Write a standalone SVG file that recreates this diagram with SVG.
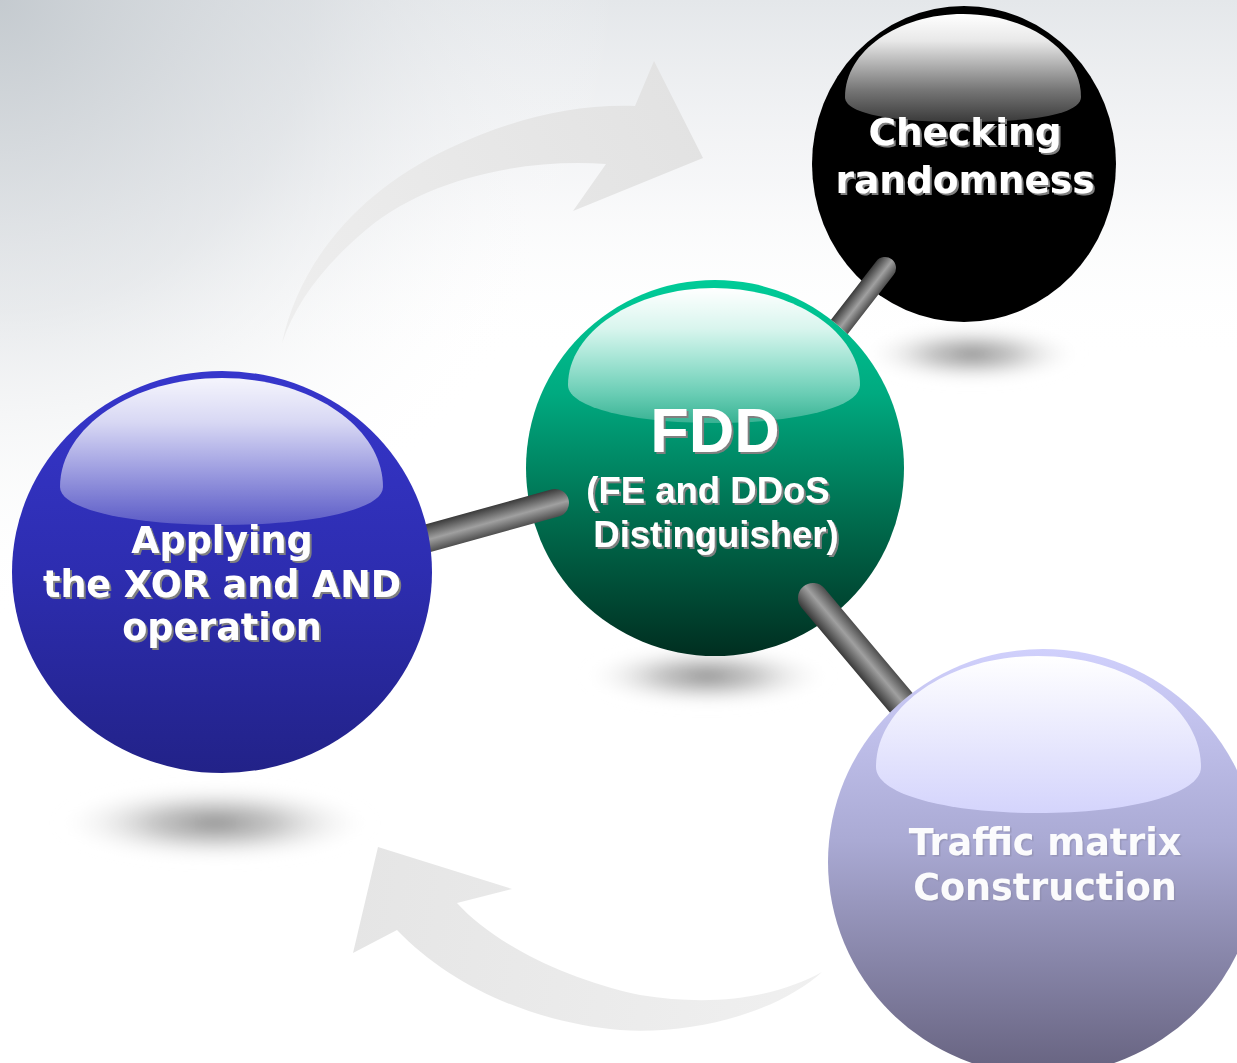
<svg xmlns="http://www.w3.org/2000/svg" width="1237" height="1063" viewBox="0 0 1237 1063">
<defs>
  <linearGradient id="bgTop" gradientUnits="userSpaceOnUse" x1="0" y1="0" x2="0" y2="360">
    <stop offset="0" stop-color="#e4e7ea" stop-opacity="1"/>
    <stop offset="0.5" stop-color="#f2f3f5" stop-opacity="0.7"/>
    <stop offset="1" stop-color="#ffffff" stop-opacity="0"/>
  </linearGradient>
  <radialGradient id="bgCorner" gradientUnits="userSpaceOnUse" cx="0" cy="0" r="620">
    <stop offset="0" stop-color="#c3c9ce" stop-opacity="0.95"/>
    <stop offset="0.5" stop-color="#d6dade" stop-opacity="0.55"/>
    <stop offset="1" stop-color="#ffffff" stop-opacity="0"/>
  </radialGradient>
  <linearGradient id="arrowTop" gradientUnits="userSpaceOnUse" x1="282" y1="343" x2="703" y2="110">
    <stop offset="0" stop-color="#eeeeee"/>
    <stop offset="1" stop-color="#e2e2e2"/>
  </linearGradient>
  <linearGradient id="arrowBot" gradientUnits="userSpaceOnUse" x1="822" y1="972" x2="353" y2="900">
    <stop offset="0" stop-color="#f0f0f0"/>
    <stop offset="1" stop-color="#e5e5e5"/>
  </linearGradient>
  <radialGradient id="shadow" cx="0.5" cy="0.5" r="0.5">
    <stop offset="0" stop-color="#8e8e8e" stop-opacity="0.95"/>
    <stop offset="0.4" stop-color="#aaaaaa" stop-opacity="0.65"/>
    <stop offset="0.75" stop-color="#d8d8d8" stop-opacity="0.25"/>
    <stop offset="1" stop-color="#ffffff" stop-opacity="0"/>
  </radialGradient>
  <linearGradient id="gGreen" x1="0" y1="0" x2="0" y2="1">
    <stop offset="0" stop-color="#00cc98"/>
    <stop offset="0.3" stop-color="#00aa80"/>
    <stop offset="0.65" stop-color="#006a4c"/>
    <stop offset="1" stop-color="#002e20"/>
  </linearGradient>
  <linearGradient id="gBlue" x1="0" y1="0" x2="0" y2="1">
    <stop offset="0" stop-color="#3636cc"/>
    <stop offset="0.5" stop-color="#2d2db0"/>
    <stop offset="1" stop-color="#222288"/>
  </linearGradient>
  <linearGradient id="gPurple" x1="0" y1="0" x2="0" y2="1">
    <stop offset="0" stop-color="#d0d0fc"/>
    <stop offset="0.45" stop-color="#aaaad4"/>
    <stop offset="1" stop-color="#66627f"/>
  </linearGradient>
  <linearGradient id="hlBlack" x1="0" y1="0" x2="0" y2="1">
    <stop offset="0" stop-color="#ffffff"/>
    <stop offset="0.25" stop-color="#e8e8e8"/>
    <stop offset="0.7" stop-color="#777777"/>
    <stop offset="1" stop-color="#3a3a3a"/>
  </linearGradient>
  <linearGradient id="hlWhite" x1="0" y1="0" x2="0" y2="1">
    <stop offset="0" stop-color="#ffffff" stop-opacity="1"/>
    <stop offset="0.3" stop-color="#ffffff" stop-opacity="0.85"/>
    <stop offset="1" stop-color="#ffffff" stop-opacity="0.22"/>
  </linearGradient>
  <linearGradient id="hlPurple" x1="0" y1="0" x2="0" y2="1">
    <stop offset="0" stop-color="#ffffff" stop-opacity="1"/>
    <stop offset="1" stop-color="#d4d4fc" stop-opacity="1"/>
  </linearGradient>
  <linearGradient id="rod" x1="0" y1="0" x2="0" y2="1">
    <stop offset="0" stop-color="#4e4e4e"/>
    <stop offset="0.45" stop-color="#a0a0a0"/>
    <stop offset="1" stop-color="#3a3a3a"/>
  </linearGradient>
  <clipPath id="notGreen">
    <path clip-rule="evenodd" d="M0,0 H1237 V1063 H0 Z M526,468 A189,188 0 1 0 904,468 A189,188 0 1 0 526,468 Z"/>
  </clipPath>
  <filter id="ts" x="-10%" y="-20%" width="120%" height="150%">
    <feDropShadow dx="2" dy="2" stdDeviation="0.7" flood-color="#808080" flood-opacity="1"/>
  </filter>
  <filter id="tsLight" x="-10%" y="-20%" width="120%" height="150%">
    <feDropShadow dx="1.5" dy="1.5" stdDeviation="0.6" flood-color="#8a88a8" flood-opacity="0.6"/>
  </filter>
  <filter id="blur" x="-30%" y="-60%" width="160%" height="220%">
    <feGaussianBlur stdDeviation="6"/>
  </filter>
  <style>
    .lbl { fill: #ffffff; font-family: "DejaVu Sans", Verdana, sans-serif; font-weight: bold; text-anchor: middle; filter: url(#ts); }
    .ar { font-family: "Liberation Sans", Arial, sans-serif; }
    .soft { filter: url(#tsLight); }
    .rod { fill: url(#rod); }
    .sh { fill: url(#shadow); filter: url(#blur); }
  </style>
</defs>

<g id="background">
  <rect x="0" y="0" width="1237" height="1063" fill="#ffffff"/>
  <rect x="0" y="0" width="1237" height="1063" fill="url(#bgTop)"/>
  <rect x="0" y="0" width="1237" height="1063" fill="url(#bgCorner)"/>
</g>

<g id="cycle-arrows">
  <path fill="url(#arrowTop)" d="M282,343 C300,260 360,190 450,148 C510,120 570,104 635,106 L654,61 L703,158 L573,211 L606,164 C520,158 420,180 360,235 C320,270 295,305 282,343 Z"/>
  <path fill="url(#arrowBot)" d="M822,972 C780,1010 700,1035 620,1030 C530,1022 450,985 397,930 L353,953 L378,847 L512,889 L457,903 C490,940 560,978 640,995 C720,1008 780,995 822,972 Z"/>
</g>

<g id="shadows">
  <ellipse class="sh" cx="972" cy="354" rx="110" ry="30"/>
  <ellipse class="sh" cx="707" cy="676" rx="125" ry="32"/>
  <ellipse class="sh" cx="215" cy="823" rx="160" ry="40"/>
</g>

<g id="node-checking">
  <ellipse cx="964" cy="164" rx="152" ry="158" fill="#000000"/>
  <path fill="url(#hlBlack)" d="M845,97 C845,51 898,14 963,14 C1028,14 1081,51 1081,97 C1081,115 1028,122 963,122 C898,122 845,115 845,97 Z"/>
  <text class="lbl" font-size="37.5" x="965" y="145">Checking</text>
  <text class="lbl" font-size="37.5" x="965" y="193">randomness</text>
</g>

<g id="node-fdd">
  <ellipse cx="715" cy="468" rx="189" ry="188" fill="url(#gGreen)"/>
  <path fill="url(#hlWhite)" d="M568,385 C568,332 634,288 714,288 C794,288 860,332 860,385 C860,408 794,423 714,423 C634,423 568,408 568,385 Z"/>
  <text class="lbl ar" font-size="63" x="715" y="452">FDD</text>
  <text class="lbl ar" font-size="36.5" x="708" y="503">(FE and DDoS</text>
  <text class="lbl ar" font-size="36.5" x="716" y="547">Distinguisher)</text>
</g>

<g id="connectors">
  <g clip-path="url(#notGreen)">
    <rect class="rod" x="-11" y="-11" width="120" height="22" rx="11" transform="translate(885,268) rotate(127.8)"/>
  </g>
  <rect class="rod" x="-14" y="-14" width="175" height="28" rx="14" transform="translate(555,503) rotate(164.5)"/>
  <rect class="rod" x="-15" y="-15" width="190" height="30" rx="15" transform="translate(813,598) rotate(49.9)"/>
</g>

<g id="node-applying">
  <ellipse cx="222" cy="572" rx="210" ry="201" fill="url(#gBlue)"/>
  <path fill="url(#hlWhite)" d="M60,487 C60,427 133,378 222,378 C311,378 383,427 383,487 C383,510 311,525 222,525 C133,525 60,510 60,487 Z" opacity="0.95"/>
  <text class="lbl" font-size="36.5" x="222" y="553">Applying</text>
  <text class="lbl" font-size="36.5" x="222" y="597">the XOR and AND</text>
  <text class="lbl" font-size="36.5" x="222" y="640">operation</text>
</g>

<g id="node-traffic">
  <ellipse cx="1043" cy="862" rx="215" ry="213" fill="url(#gPurple)"/>
  <path fill="url(#hlPurple)" d="M876,767 C876,706 949,656 1038,656 C1127,656 1201,706 1201,767 C1201,795 1127,813 1038,813 C949,813 876,795 876,767 Z"/>
  <text class="lbl soft" font-size="36.5" x="1045" y="855" fill-opacity="0.96">Traffic matrix</text>
  <text class="lbl soft" font-size="36.5" x="1045" y="900" fill-opacity="0.96">Construction</text>
</g>
</svg>
